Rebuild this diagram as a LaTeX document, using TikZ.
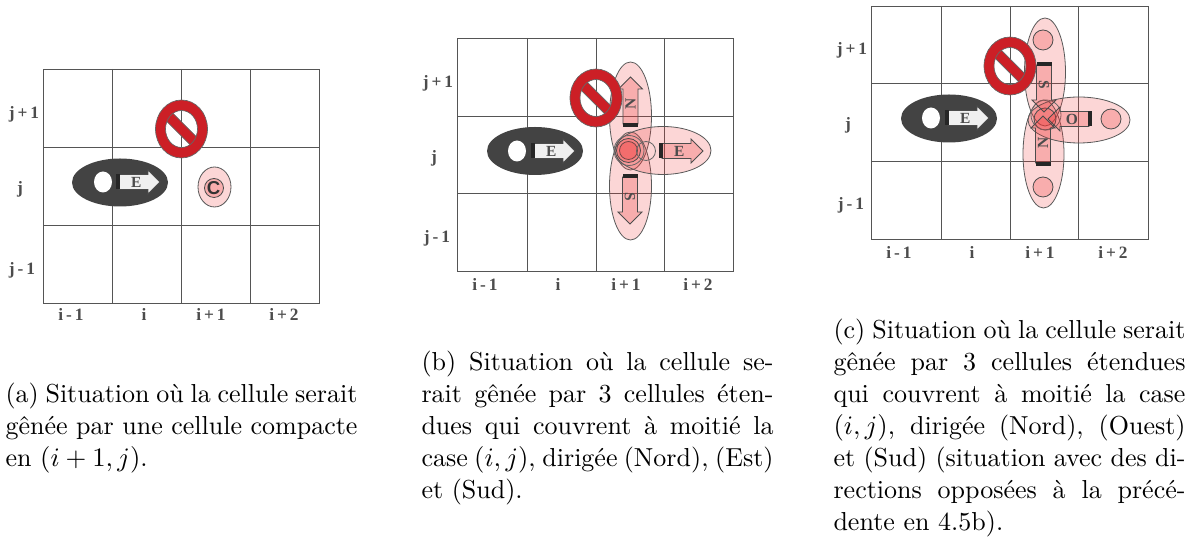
\documentclass[tikz,border=0pt]{standalone}
\usepackage{fontspec}
\newfontfamily\gridfont{Liberation Serif}
\newfontfamily\cellfont{Liberation Sans}

\definecolor{signred}{HTML}{CC1F26}
\definecolor{cellgrey}{HTML}{434343}
\definecolor{cellred}{HTML}{EE3333}
\definecolor{gridgrey}{HTML}{555555}

\newcommand{\labelfont}{\gridfont\fontsize{6.5}{7}\selectfont\bfseries\spaceskip 1.1pt\relax}

\tikzset{
  gridline/.style={draw=gridgrey, line width=0.33pt},
  gridlabel/.style={font=\labelfont, text=black!70, inner sep=0pt},
  dirletter/.style={font=\gridfont\fontsize{5.8}{7}\selectfont\bfseries, text=black!70, inner sep=0pt},
  darkcell/.style={fill=cellgrey},
  lightcell/.style={draw=black!65, line width=0.3pt, fill=cellred, fill opacity=0.2},
  headcell/.style={draw=black!70, line width=0.3pt, fill=cellred, fill opacity=0.25},
  ringcell/.style={draw=black!60, line width=0.3pt},
  caption/.style={anchor=north west, inner sep=0pt, text width=132pt, align=justify,
    font=\fontsize{9.75}{12}\selectfont},
}

% x, y, rotation, letter rotation, length, fill options, node name, letter
\newcommand{\dirarrow}[8]{
  \begin{scope}[shift={(#1,#2)}, rotate=#3]
    \draw[line width=0.3pt, draw=black!70, #6] (3,-7.5) -- ({#5-12},-7.5) -- ({#5-12},-12) -- (#5,0)
      -- ({#5-12},12) -- ({#5-12},7.5) -- (3,7.5) -- cycle;
    \fill[black!85] (0,-7.5) rectangle (1.6,7.5);
    \fill[black!85] (2.4,-7.5) rectangle (3.6,7.5);
    \node[dirletter, rotate=#4] (#7) at ({0.46*#5},0) {#8};
  \end{scope}
}

% x, y
\newcommand{\nosign}[2]{
  \begin{scope}[shift={(#1,#2)}]
    \draw[fill=signred, draw=black!60, line width=0.25pt, rotate=-45] (-20,-5) rectangle (20,5);
    \draw[fill=signred, draw=black!60, line width=0.25pt, even odd rule]
      (0,0) ellipse [x radius=26, y radius=29] (0,0) ellipse [x radius=16, y radius=18.5];
  \end{scope}
}

\begin{document}
\begin{tikzpicture}[x=0.375pt, y=-0.375pt]
  \useasboundingbox (0,0) rectangle (1194,537);

  % panel a
  \draw[gridline] (43,69) rectangle (319,303);
  \draw[gridline] (112,69) -- (112,303) (181,69) -- (181,303) (250,69) -- (250,303);
  \draw[gridline] (43,147) -- (319,147) (43,225) -- (319,225);

  \node[gridlabel] (aj2) at (24,114) {j + 1};
  \node[gridlabel] (aj1) at (20,189) {j};
  \node[gridlabel] (aj0) at (22,270) {j - 1};
  \node[gridlabel] (ai0) at (71,314) {i - 1};
  \node[gridlabel] (ai1) at (144,314) {i};
  \node[gridlabel] (ai2) at (211,314) {i + 1};
  \node[gridlabel] (ai3) at (284,314) {i + 2};

  \fill[darkcell] (120,182.5) ellipse [x radius=48, y radius=24];
  \fill[white] (103,182) ellipse [x radius=9, y radius=10.5];
  \dirarrow{116}{182}{0}{0}{44}{fill=black!6}{ae}{E}

  \draw[lightcell] (214.5,187) ellipse [x radius=16.5, y radius=20];
  \draw[headcell] (214,188) circle [radius=9.5];
  \node[font=\cellfont\fontsize{7}{8}\selectfont\bfseries, text=black!80, inner sep=0pt] (ac) at (213.5,188.5) {C};
  \nosign{181.5}{129}

  % panel b
  \draw[gridline] (457,38) rectangle (733,271);
  \draw[gridline] (527,38) -- (527,271) (596,38) -- (596,271) (664,38) -- (664,271);
  \draw[gridline] (457,116) -- (733,116) (457,193) -- (733,193);

  \node[gridlabel] (bj2) at (438,83) {j + 1};
  \node[gridlabel] (bj1) at (434,158) {j};
  \node[gridlabel] (bj0) at (437,238) {j - 1};
  \node[gridlabel] (bi0) at (485,284) {i - 1};
  \node[gridlabel] (bi1) at (558,284) {i};
  \node[gridlabel] (bi2) at (626,284) {i + 1};
  \node[gridlabel] (bi3) at (698,284) {i + 2};

  \fill[darkcell] (535,151) ellipse [x radius=48, y radius=24];
  \fill[white] (517,151) ellipse [x radius=9, y radius=10.5];
  \dirarrow{531}{151}{0}{0}{44}{fill=black!6}{be}{E}

  \draw[lightcell] (630.5,116) ellipse [x radius=21, y radius=54];
  \draw[lightcell] (630.5,186) ellipse [x radius=21, y radius=54];
  \draw[lightcell] (663,150.5) ellipse [x radius=48, y radius=24];
  \draw[headcell] (628.5,150.5) circle [radius=9];
  \draw[headcell] (628.5,150.5) circle [radius=12];
  \draw[ringcell] (629,150.5) circle [radius=15];
  \draw[ringcell] (646,151) circle [radius=9.5];
  \dirarrow{630.5}{127}{90}{90}{50}{headcell}{bn}{N}
  \dirarrow{630}{174}{-90}{-90}{50}{headcell}{bs}{S}
  \dirarrow{659}{151}{0}{0}{44}{headcell}{bee}{E}
  \nosign{596}{98}

  % panel c
  \draw[gridline] (871,6) rectangle (1148,239);
  \draw[gridline] (941,6) -- (941,239) (1010,6) -- (1010,239) (1078,6) -- (1078,239);
  \draw[gridline] (871,83) -- (1148,83) (871,161) -- (1148,161);

  \node[gridlabel] (cj2) at (852,50) {j + 1};
  \node[gridlabel] (cj1) at (848,125) {j};
  \node[gridlabel] (cj0) at (851,205) {j - 1};
  \node[gridlabel] (ci0) at (899,252) {i - 1};
  \node[gridlabel] (ci1) at (972,252) {i};
  \node[gridlabel] (ci2) at (1040,252) {i + 1};
  \node[gridlabel] (ci3) at (1113,252) {i + 2};

  \fill[darkcell] (949,118.5) ellipse [x radius=48, y radius=24];
  \fill[white] (931,118) ellipse [x radius=9, y radius=10.5];
  \dirarrow{945}{118}{0}{0}{44}{fill=black!6}{ce}{E}

  \draw[lightcell] (1045,72) ellipse [x radius=20.5, y radius=54];
  \draw[lightcell] (1043.5,154) ellipse [x radius=20.5, y radius=54];
  \draw[lightcell] (1079,120) ellipse [x radius=51, y radius=23];
  \draw[headcell] (1043,40) circle [radius=10];
  \draw[headcell] (1043,187) circle [radius=10];
  \draw[headcell] (1111,119) circle [radius=10];
  \draw[headcell] (1045,119) circle [radius=11];
  \draw[ringcell] (1046,115) circle [radius=15];
  \dirarrow{1044}{62}{-90}{-90}{50}{headcell}{cs}{S}
  \dirarrow{1043}{166}{90}{90}{50}{headcell}{cn}{N}
  \dirarrow{1092}{119}{180}{0}{44}{headcell}{co}{O}
  \nosign{1010}{66}

  % captions
  \node[caption] (capa) at (5,382) {(a) Situation où la cellule serait\linebreak
    gênée par une cellule compacte\linebreak
    en $(i+1,j)$.};
  \node[caption] (capb) at (421,350) {(b) Situation où la cellule se-\linebreak
    rait gênée par 3 cellules éten-\linebreak
    dues qui couvrent à moitié la\linebreak
    case $(i,j)$, dirigée (Nord), (Est)\linebreak
    et (Sud).};
  \node[caption] (capc) at (833,318) {(c) Situation où la cellule serait\linebreak
    gênée par 3 cellules étendues\linebreak
    qui couvrent à moitié la case\linebreak
    $(i,j)$, dirigée (Nord), (Ouest)\linebreak
    et (Sud) (situation avec des di-\linebreak
    rections opposées à la précé-\linebreak
    dente en 4.5b).};
\end{tikzpicture}
\end{document}
